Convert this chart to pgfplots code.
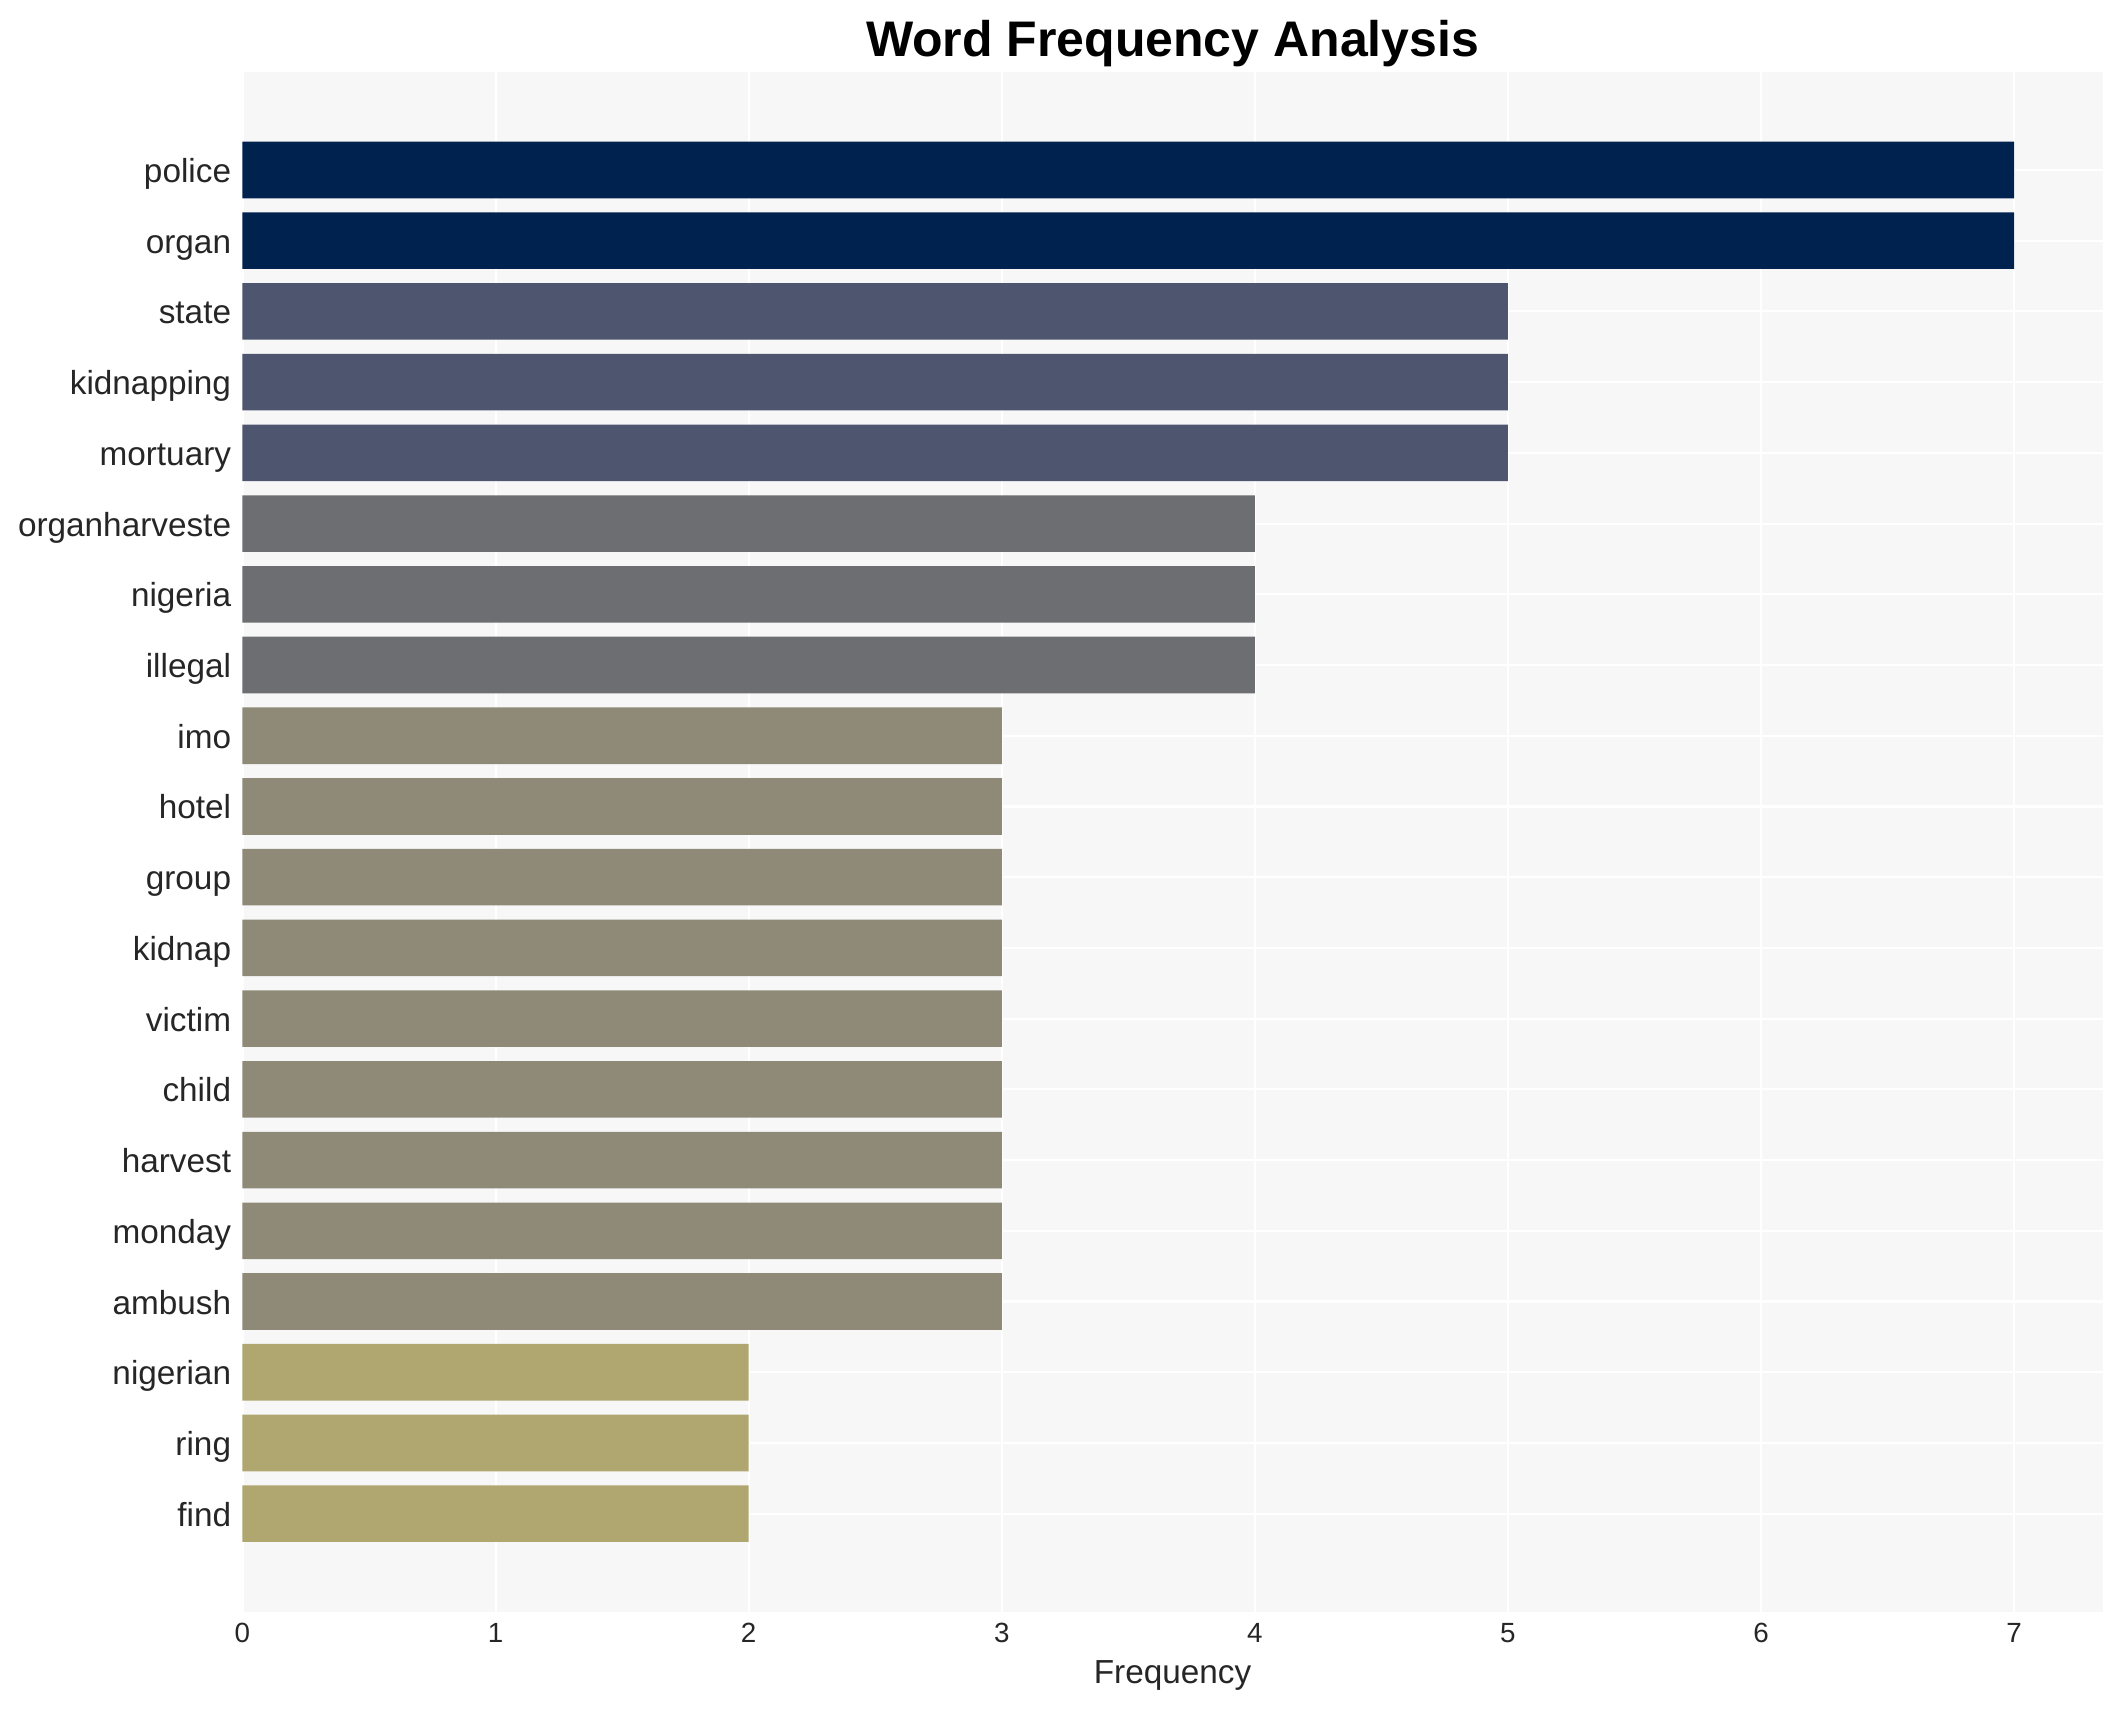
\documentclass[border=0pt]{standalone}
\usepackage{pgfplots}
\pgfplotsset{compat=1.18}
\usepackage{fontspec}
\setmainfont{Liberation Sans}
\definecolor{cA}{HTML}{00224E}
\definecolor{cB}{HTML}{4E566F}
\definecolor{cC}{HTML}{6D6E72}
\definecolor{cD}{HTML}{8F8A78}
\definecolor{cE}{HTML}{B0A670}
\definecolor{bgc}{HTML}{F7F7F7}
\definecolor{tc}{HTML}{262626}
\begin{document}
\begin{tikzpicture}
\useasboundingbox (-87.3pt,-35.3pt) rectangle (677.1pt,580.4pt);
\begin{axis}[
  at={(0,0)}, anchor=south west,
  width=669.8pt, height=554.6pt, scale only axis,
  xbar, bar width=0.8, bar shift=0pt,
  xmin=0, xmax=7.35, ymin=-1.39, ymax=20.39, y dir=reverse,
  axis background/.style={fill=bgc},
  axis line style={draw=none},
  major tick length=0pt, tick style={draw=none},
  grid=major, major grid style={white, line width=0.75pt},
  xtick={0,1,2,3,4,5,6,7}, ytick={0,1,...,19},
  yticklabels={police,organ,state,kidnapping,mortuary,organharveste,nigeria,illegal,imo,hotel,group,kidnap,victim,child,harvest,monday,ambush,nigerian,ring,find},
  /pgf/number format/assume math mode=true,
  xticklabel style={font=\fontsize{10}{12}\selectfont, text=tc, anchor=base, yshift=-10.9pt, inner sep=0pt},
  yticklabel style={font=\fontsize{12}{14}\selectfont, text=tc, anchor=base east, yshift=-4.5pt, xshift=-3.9pt, inner sep=0pt},
  title={Word Frequency Analysis},
  title style={font=\bfseries\fontsize{18}{22}\selectfont, at={(0.5,1)}, anchor=base, yshift=-0.7pt, inner sep=0pt},
  xlabel={Frequency},
  xlabel style={font=\fontsize{12}{14}\selectfont, text=tc, at={(axis description cs:0.5,0)}, anchor=base, yshift=-25.7pt, inner sep=0pt},
]
\addplot[fill=cA, draw=none] coordinates {(7,0) (7,1)};
\addplot[fill=cB, draw=none] coordinates {(5,2) (5,3) (5,4)};
\addplot[fill=cC, draw=none] coordinates {(4,5) (4,6) (4,7)};
\addplot[fill=cD, draw=none] coordinates {(3,8) (3,9) (3,10) (3,11) (3,12) (3,13) (3,14) (3,15) (3,16)};
\addplot[fill=cE, draw=none] coordinates {(2,17) (2,18) (2,19)};
\end{axis}
\end{tikzpicture}
\end{document}
